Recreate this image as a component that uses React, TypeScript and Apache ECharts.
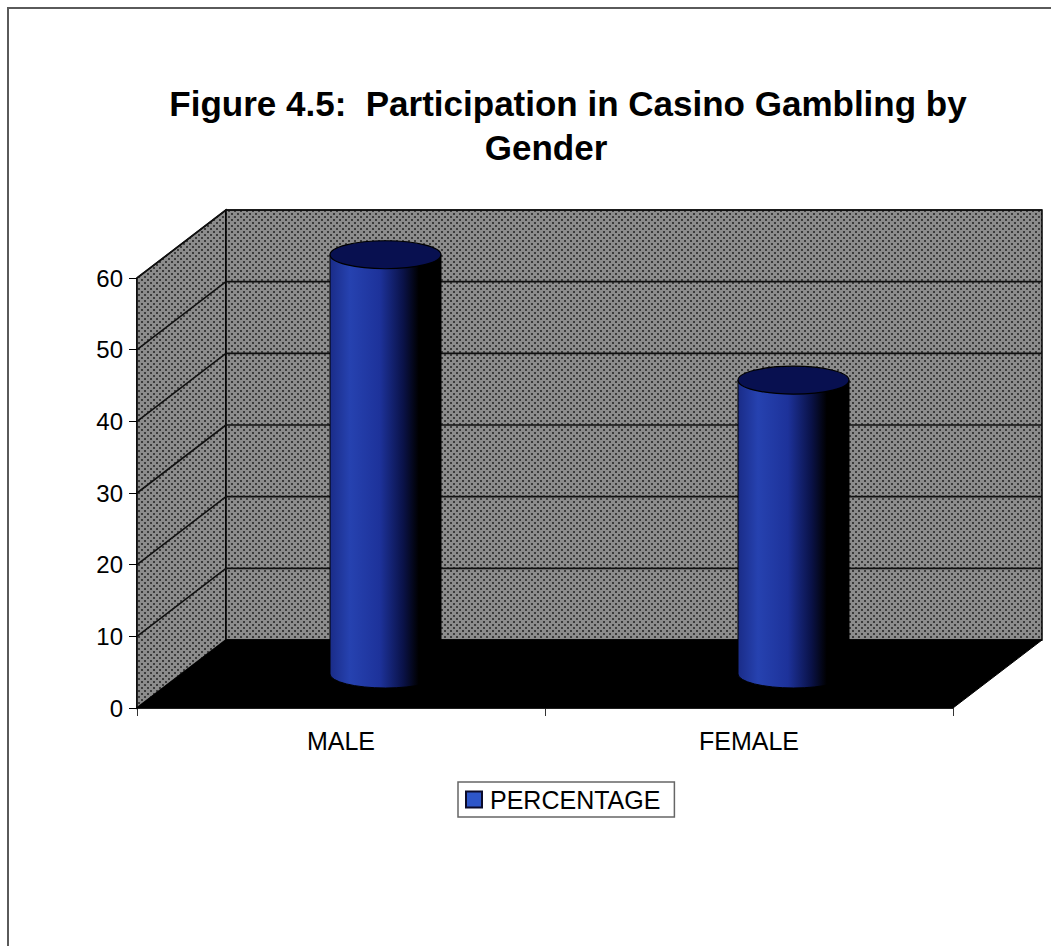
import React, { useEffect, useRef } from 'react';
import * as echarts from 'echarts';

const categories = ['MALE', 'FEMALE'];
const percentage = [58.5, 41];
const yTickValues = [0, 10, 20, 30, 40, 50, 60];
const titleLine1 = 'Figure 4.5:  Participation in Casino Gambling by';
const titleLine2 = 'Gender';
const seriesName = 'PERCENTAGE';

const FONT = '"Liberation Sans", Arial, Helvetica, sans-serif';
const DX = 89;
const DY = 68;

function makePattern(): any {
  const c = document.createElement('canvas');
  c.width = 6;
  c.height = 6;
  const ctx = c.getContext('2d')!;
  ctx.fillStyle = '#8c8c8c';
  ctx.fillRect(0, 0, 6, 6);
  ctx.fillStyle = '#3c3c3c';
  ctx.fillRect(0, 0, 2, 2);
  ctx.fillRect(3, 3, 2, 2);
  return { image: c, repeat: 'repeat' };
}

export default function App() {
  const ref = useRef<HTMLDivElement>(null);
  useEffect(() => {
    if (!ref.current) return;
    const chart = echarts.init(ref.current, undefined, { renderer: 'svg' });
    const pattern = makePattern();
    const yMax = yTickValues[yTickValues.length - 1];

    const option: any = {
      animation: false,
      backgroundColor: '#fff',
      graphic: [
        {
          type: 'rect',
          shape: { x: 8, y: 8, width: 1200, height: 1100 },
          style: { fill: 'none', stroke: '#5a5a5a', lineWidth: 2 },
          silent: true,
        },
        {
          type: 'text',
          x: 568,
          y: 103,
          style: {
            text: titleLine1,
            font: `bold 35px ${FONT}`,
            fill: '#000',
            textAlign: 'center',
            textVerticalAlign: 'middle',
          },
        },
        {
          type: 'text',
          x: 546,
          y: 147,
          style: {
            text: titleLine2,
            font: `bold 35px ${FONT}`,
            fill: '#000',
            textAlign: 'center',
            textVerticalAlign: 'middle',
          },
        },
      ],
      grid: { left: 137, right: 98, top: 278, bottom: 238, containLabel: false },
      xAxis: {
        type: 'category',
        data: categories,
        axisLine: { show: true, lineStyle: { color: '#000', width: 1.5 } },
        axisTick: { show: true, length: 8, lineStyle: { color: '#333', width: 1 } },
        axisLabel: { fontSize: 25, color: '#000', fontFamily: FONT, margin: 20 },
        splitLine: { show: false },
      },
      yAxis: {
        type: 'value',
        min: 0,
        max: yMax,
        interval: 10,
        axisLine: { show: true, lineStyle: { color: '#000', width: 1.5 } },
        axisTick: { show: true, length: 8, lineStyle: { color: '#000', width: 1 } },
        axisLabel: { fontSize: 24, color: '#000', fontFamily: FONT, margin: 14 },
        splitLine: { show: false },
      },
      legend: {
        data: [
          {
            name: seriesName,
            icon: 'rect',
            itemStyle: { color: '#2e56c9', borderColor: '#0b0b2a', borderWidth: 2 },
          },
        ],
        left: 458,
        top: 782,
        itemWidth: 16,
        itemHeight: 16,
        padding: [5, 14, 5, 7],
        borderColor: '#666',
        borderWidth: 1.5,
        selectedMode: false,
        textStyle: { fontSize: 25, color: '#000', fontFamily: FONT, padding: [0, 0, 0, 3] },
      },
      series: [
        {
          type: 'custom',
          name: 'walls',
          clip: false,
          silent: true,
          z: 1,
          data: [[0, 0]],
          renderItem: (params: any, api: any) => {
            const cs = params.coordSys;
            const x0 = cs.x;
            const x1 = cs.x + cs.width;
            const yB = api.coord([0, 0])[1];
            const yT = api.coord([0, yMax])[1];
            const children: any[] = [
              {
                type: 'polygon',
                shape: { points: [[x0, yB], [x0, yT], [x0 + DX, yT - DY], [x0 + DX, yB - DY]] },
                style: { fill: pattern, stroke: '#000', lineWidth: 1.5 },
              },
              {
                type: 'rect',
                shape: { x: x0 + DX, y: yT - DY, width: cs.width, height: yB - yT },
                style: { fill: pattern, stroke: '#000', lineWidth: 1.5 },
              },
            ];
            yTickValues.forEach((v) => {
              const y = api.coord([0, v])[1];
              children.push({
                type: 'line',
                shape: { x1: x0, y1: y, x2: x0 + DX, y2: y - DY },
                style: { stroke: '#111', lineWidth: 1.6 },
              });
              children.push({
                type: 'line',
                shape: { x1: x0 + DX, y1: y - DY, x2: x1 + DX, y2: y - DY },
                style: { stroke: '#111', lineWidth: 1.6 },
              });
            });
            children.push({
              type: 'polygon',
              shape: { points: [[x0, yB], [x1, yB], [x1 + DX, yB - DY], [x0 + DX, yB - DY]] },
              style: { fill: '#000', stroke: '#000', lineWidth: 1 },
            });
            return { type: 'group', children };
          },
        },
        {
          type: 'custom',
          name: seriesName,
          clip: false,
          z: 3,
          itemStyle: { color: '#2e56c9' },
          data: percentage.map((v, i) => [i, v]),
          renderItem: (params: any, api: any) => {
            const idx = api.value(0);
            const v = api.value(1);
            const top = api.coord([idx, v]);
            const base = api.coord([idx, 0]);
            const band = api.size([1, 0])[0];
            const rx = band * 0.136;
            const ry = 14;
            const cx = top[0] + DX / 2;
            const ty = top[1] - DY / 2;
            const by = base[1] - DY / 2;
            const d = `M ${cx - rx} ${ty} L ${cx - rx} ${by} A ${rx} ${ry} 0 0 0 ${cx + rx} ${by} L ${cx + rx} ${ty} Z`;
            const grad = new echarts.graphic.LinearGradient(0, 0, 1, 0, [
              { offset: 0, color: '#1a2c88' },
              { offset: 0.18, color: '#2642b0' },
              { offset: 0.45, color: '#1d329a' },
              { offset: 0.66, color: '#0a1248' },
              { offset: 0.8, color: '#000000' },
              { offset: 1, color: '#000000' },
            ]);
            return {
              type: 'group',
              children: [
                {
                  type: 'path',
                  shape: { pathData: d },
                  style: { fill: grad, stroke: '#000', lineWidth: 1 },
                },
                {
                  type: 'ellipse',
                  shape: { cx, cy: ty, rx, ry },
                  style: { fill: '#081050', stroke: '#000', lineWidth: 1.2 },
                },
              ],
            };
          },
        },
      ],
    };
    chart.setOption(option);
    return () => chart.dispose();
  }, []);
  return (
    <div
      ref={ref}
      style={{ position: 'fixed', left: 0, top: 0, width: 1051, height: 946 }}
    />
  );
}
